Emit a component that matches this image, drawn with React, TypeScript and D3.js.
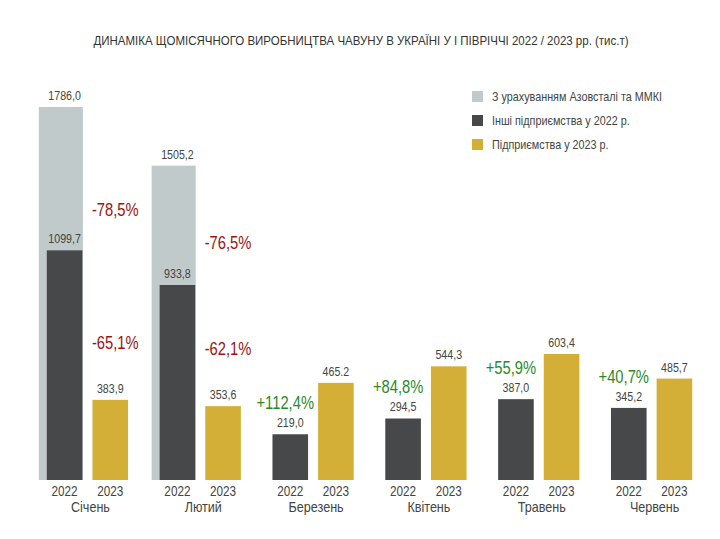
import { useEffect, useRef } from "react";
import * as d3 from "d3";

// Місяці першого півріччя
const months = ["Січень", "Лютий", "Березень", "Квітень", "Травень", "Червень"];

// 2022 з урахуванням Азовсталі та ММКІ (є лише для січня та лютого)
const total2022 = [1786.0, 1505.2, null, null, null, null];
// Інші підприємства у 2022 р.
const other2022 = [1099.7, 933.8, 219.0, 294.5, 387.0, 345.2];
// Підприємства у 2023 р.
const output2023 = [383.9, 353.6, 465.2, 544.3, 603.4, 485.7];
// Підписи над стовпцями 2023 (як у звіті)
const labels2023 = ["383,9", "353,6", "465.2", "544,3", "603,4", "485,7"];

// Зміна 2023 до загального обсягу 2022 (січень, лютий)
const changeVsTotal = ["-78,5%", "-76,5%"];
// Зміна 2023 до інших підприємств 2022
const changeVsOther = ["-65,1%", "-62,1%", "+112,4%", "+84,8%", "+55,9%", "+40,7%"];

const years = ["2022", "2023"];

const legendItems = [
  { label: "З урахуванням Азовсталі та ММКІ", color: "#c0cacb" },
  { label: "Інші підприємства у 2022 р.", color: "#47484a" },
  { label: "Підприємства у 2023 р.", color: "#d4af37" },
];

const FONT = "'Liberation Sans', Arial, sans-serif";
const fmt = (v: number) => v.toFixed(1).replace(".", ",");

type Sel = d3.Selection<any, unknown, null, undefined>;

// вузький шрифт імітуємо стисканням по горизонталі
function label(
  parent: Sel,
  x: number,
  y: number,
  text: string,
  size: number,
  fill: string,
  sx = 0.82,
  anchor = "middle"
) {
  parent
    .append("text")
    .attr("transform", `translate(${x},${y}) scale(${sx},1)`)
    .attr("text-anchor", anchor)
    .style("font-family", FONT)
    .style("font-size", `${size}px`)
    .style("fill", fill)
    .text(text);
}

export default function App() {
  const ref = useRef<SVGSVGElement>(null);

  useEffect(() => {
    const width = 720;
    const height = 539;
    const svg = d3.select(ref.current).attr("width", width).attr("height", height);
    svg.selectAll("*").remove();

    svg.append("rect").attr("width", width).attr("height", height).attr("fill", "#fff");

    const x0 = d3.scaleBand().domain(months).range([31, 708]).paddingInner(0.28).paddingOuter(0.14);
    const x1 = d3.scaleBand().domain(years).range([0, x0.bandwidth()]).paddingInner(0.22);
    const y = d3.scaleLinear().domain([0, 1786]).range([480, 107]);

    // Заголовок
    label(
      svg as Sel,
      361,
      45,
      "ДИНАМІКА ЩОМІСЯЧНОГО ВИРОБНИЦТВА ЧАВУНУ В УКРАЇНІ У І ПІВРІЧЧІ 2022 / 2023 рр. (тис.т)",
      12.5,
      "#333",
      0.92
    );

    const g = svg.append("g") as Sel;
    const bw = x1.bandwidth();
    const red = "#9e1212";
    const green = "#2a8a2a";
    const grey = "#444";

    months.forEach((m, i) => {
      const gx = x0(m)!;
      const x22 = gx + x1("2022")!;
      const x23 = gx + x1("2023")!;

      // Світлий стовпець — загальний обсяг 2022
      const tot = total2022[i];
      if (tot != null) {
        g.append("rect")
          .attr("x", x22 - 8)
          .attr("y", y(tot))
          .attr("width", bw + 8.5)
          .attr("height", y(0) - y(tot))
          .attr("fill", legendItems[0].color);
        label(g, x22 + bw / 2, y(tot) - 7, fmt(tot), 13, grey);
      }

      // Інші підприємства 2022
      g.append("rect")
        .attr("x", x22)
        .attr("y", y(other2022[i]))
        .attr("width", bw)
        .attr("height", y(0) - y(other2022[i]))
        .attr("fill", legendItems[1].color);
      label(g, x22 + bw / 2, y(other2022[i]) - 7, fmt(other2022[i]), 13, grey);

      // 2023
      g.append("rect")
        .attr("x", x23)
        .attr("y", y(output2023[i]))
        .attr("width", bw)
        .attr("height", y(0) - y(output2023[i]))
        .attr("fill", legendItems[2].color);
      label(g, x23 + bw / 2, y(output2023[i]) - 7, labels2023[i], 13, grey);

      // Роки під стовпцями
      years.forEach((yr) => {
        label(g, gx + x1(yr)! + bw / 2, 496, yr, 14, grey, 0.84);
      });

      // Назва місяця
      label(g, gx + x0.bandwidth() / 2 + 3, 512, m, 14, grey, 0.9);

      // Відсоткові зміни
      const pct = changeVsOther[i];
      const up = pct.startsWith("+");
      if (tot != null) {
        const midY = (y(tot) + y(output2023[i])) / 2 - 37;
        label(g, x23 + bw / 2 + 5, midY, changeVsTotal[i], 18, red);
      }
      label(
        g,
        up ? x22 + bw / 2 - 5 : x23 + bw / 2 + 5,
        up ? y(other2022[i]) - 25 : y(output2023[i]) - 51,
        pct,
        18,
        up ? green : red
      );
    });

    // Легенда
    const legend = svg.append("g").attr("transform", "translate(472,91)");
    legendItems.forEach((d, i) => {
      const row = legend.append("g").attr("transform", `translate(0,${i * 24})`) as Sel;
      row.append("rect").attr("width", 11).attr("height", 11).attr("fill", d.color);
      label(row, 20, 10, d.label, 12, grey, 0.9, "start");
    });
  }, []);

  return <svg ref={ref} style={{ position: "absolute", left: 0, top: 0 }}></svg>;
}
